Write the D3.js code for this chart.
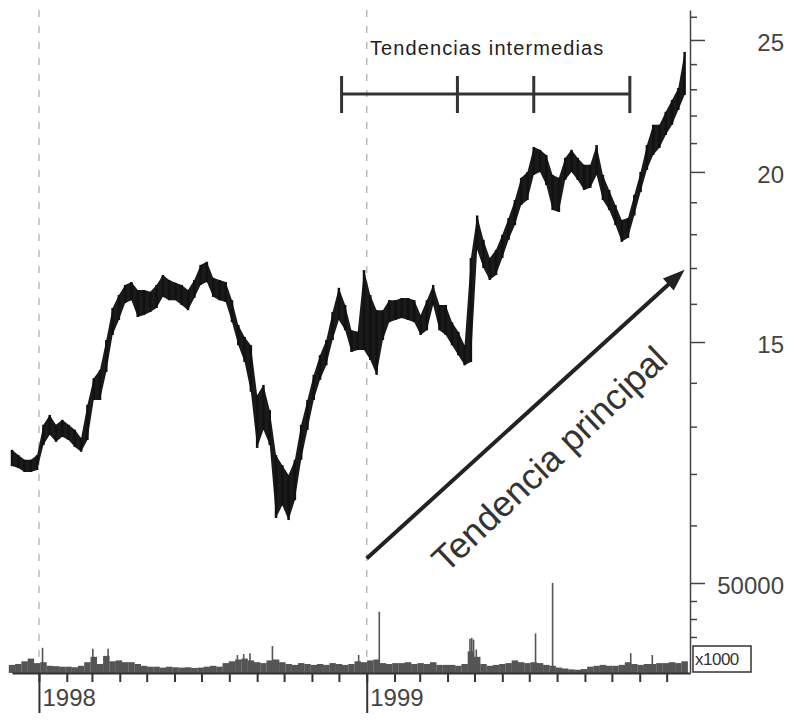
<!DOCTYPE html>
<html>
<head>
<meta charset="utf-8">
<script src="https://cdn.jsdelivr.net/npm/d3@7"></script>
<style>
body { margin: 0; background: #fff; }
svg { display: block; font-family: "Liberation Sans", Arial, sans-serif; }
</style>
</head>
<body>
<script>
var w = 791;
var h = 720;

// weekly price bars, first week starts here
var firstWeek = "1997-12-02";

var weekHigh = [12.50,12.39,12.29,12.29,12.39,13.04,13.26,13.04,13.15,13.04,
  12.93,12.75,13.49,14.11,14.31,15.05,15.89,16.24,16.52,16.60,
  16.38,16.38,16.33,16.52,16.80,16.66,16.58,16.52,16.38,16.66,
  17.09,17.18,16.72,16.66,16.60,16.10,15.44,15.13,14.92,13.71,
  13.95,13.37,12.39,12.18,11.98,12.29,13.04,13.60,14.19,14.67,
  15.05,15.78,16.44,15.97,15.30,15.26,16.94,16.24,15.83,15.83,
  16.10,16.10,16.16,16.16,16.10,15.70,16.10,16.52,15.97,15.97,
  15.51,15.26,14.92,17.29,18.58,17.83,17.29,17.53,17.98,18.50,
  19.07,19.80,20.00,20.86,20.76,20.58,19.90,19.80,20.48,20.76,
  20.48,20.24,20.24,20.93,19.90,19.40,18.91,18.44,18.50,19.24,
  20.00,20.93,21.66,21.66,22.14,22.59,23.05,24.50];

var weekLow = [12.16,12.12,12.04,12.04,12.08,12.60,12.82,12.67,12.78,12.71,
  12.56,12.46,12.71,13.60,13.60,14.26,15.18,15.57,16.02,16.10,
  15.65,15.70,15.78,15.89,16.19,16.10,16.10,15.97,15.83,16.16,
  16.52,16.60,16.19,16.10,16.05,15.51,14.92,14.50,13.79,12.54,
  12.93,12.60,11.14,11.38,11.10,11.48,12.29,12.93,13.60,14.07,
  14.42,15.05,15.57,15.30,14.75,14.80,14.80,14.55,14.19,15.05,
  15.51,15.57,15.62,15.57,15.51,15.18,15.30,15.97,15.30,15.18,
  14.92,14.67,14.42,14.50,17.53,17.00,16.66,16.80,17.29,17.83,
  18.28,18.91,19.07,19.90,20.00,19.56,18.75,18.69,19.73,20.00,
  19.73,19.40,19.47,19.90,19.07,18.75,18.28,17.77,17.89,18.58,
  19.33,20.07,20.58,20.83,21.29,21.66,22.21,22.78];

// volume (x1000)
var weekVol = [4500,5000,6500,8000,5500,6000,4000,3800,3500,3500,
  3200,4000,6000,9000,5000,9500,6500,7000,6000,6000,
  5000,4000,3500,3500,3000,3500,3200,3000,3200,2800,
  3000,3500,4000,3500,5500,6500,7500,8000,7000,6000,
  5500,7000,7500,6000,5000,4500,5500,5000,4500,5000,
  4500,5500,5000,4500,5000,6500,6000,7000,7500,5500,
  5000,5500,5500,6000,5000,5500,5000,6000,4500,4500,
  4500,4000,5000,12000,9000,5000,4000,4500,5000,5500,
  7000,6000,5500,6000,5500,4500,4000,3000,2500,2000,
  1800,2200,3500,4000,4500,4000,4000,4500,6000,5000,
  4500,5000,5000,5500,5500,6000,5500,6500];

var spikeDates = ["1998-01-05","1998-03-02","1998-03-19","1998-08-10","1998-08-17","1998-08-24",
  "1998-09-18","1998-12-23","1999-01-15","1999-04-26","1999-04-28","1999-04-30","1999-05-03",
  "1999-07-08","1999-07-27","1999-10-22","1999-11-15"];
var spikeVol = [14000,13500,13500,10000,10500,11000,15000,10000,34000,19000,19500,18500,13000,
  22000,50000,11000,10000];

var priceTicks = [15, 20, 25];
var priceMinor = [11,12,13,14,16,17,18,19,21,22,23,24,26];
var volTicks = [50000];
var volMinor = [20000, 30000, 40000];

var trendMarks = ["1998-12-04","1999-04-12","1999-07-06","1999-10-21"];
var trendDates = ["1999-01-01","1999-12-21"];
var trendPrices = [10.4, 16.95];

var parse = d3.timeParse("%Y-%m-%d");
var start = parse(firstWeek);
var weeks = weekHigh.map(function(v, i){
  return {date: d3.timeDay.offset(start, i*7), high: v, low: weekLow[i], vol: weekVol[i]};
});

var x = d3.scaleTime()
  .domain([new Date(1997, 11, 2), new Date(1999, 11, 27)])
  .range([12, 690]);
var y = d3.scaleLog().domain([8.57, 26.3]).range([673, 10]);
var yv = d3.scaleLinear().domain([0, 50000]).range([673, 583]);

var svg = d3.select("body").append("svg")
  .attr("width", w)
  .attr("height", h);

svg.append("rect").attr("width", w).attr("height", h).attr("fill", "#fff");

// dashed year lines
svg.selectAll(".grid")
  .data(x.ticks(d3.timeYear.every(1)))
  .enter()
  .append("line")
  .attr("x1", function(d){ return x(d); })
  .attr("x2", function(d){ return x(d); })
  .attr("y1", 10)
  .attr("y2", 673)
  .attr("stroke", "#bbb")
  .attr("stroke-width", 1.5)
  .attr("stroke-dasharray", "7,9");

// volume
svg.selectAll(".vol")
  .data(weeks)
  .enter()
  .append("rect")
  .attr("x", function(d){ return x(d.date) - 3.2; })
  .attr("width", function(d){ return x(d3.timeDay.offset(d.date, 7)) - x(d.date) + 0.2; })
  .attr("y", function(d){ return yv(d.vol); })
  .attr("height", function(d){ return yv(0) - yv(d.vol); })
  .attr("fill", "#555");

svg.selectAll(".spike")
  .data(spikeDates)
  .enter()
  .append("line")
  .attr("x1", function(d){ return x(parse(d)); })
  .attr("x2", function(d){ return x(parse(d)); })
  .attr("y1", yv(0))
  .attr("y2", function(d, i){ return yv(spikeVol[i]); })
  .attr("stroke", "#555")
  .attr("stroke-width", 1.6);

// price band
var band = d3.area()
  .x(function(d){ return x(d.date); })
  .y0(function(d){ return y(d.low); })
  .y1(function(d){ return y(d.high); });

svg.append("path")
  .datum(weeks)
  .attr("d", band)
  .attr("fill", "#1a1a1a");

svg.selectAll(".bar")
  .data(weeks)
  .enter()
  .append("line")
  .attr("x1", function(d){ return x(d.date); })
  .attr("x2", function(d){ return x(d.date); })
  .attr("y1", function(d){ return y(d.high); })
  .attr("y2", function(d){ return y(d.low); })
  .attr("stroke", "#111")
  .attr("stroke-width", 2.5);

// right axis
var axisColor = "#444";
var gMinor = svg.append("g").attr("transform", "translate(690,0)")
  .call(d3.axisRight(y).tickValues(priceMinor).tickSize(7).tickSizeOuter(0).tickFormat(""));
gMinor.select(".domain").attr("stroke", axisColor).attr("stroke-width", 1.5);
gMinor.selectAll(".tick line").attr("stroke", axisColor).attr("stroke-width", 1.5);

var gMajor = svg.append("g").attr("transform", "translate(690,0)")
  .call(d3.axisRight(y).tickValues(priceTicks).tickSize(15).tickFormat(d3.format("d")));
gMajor.select(".domain").remove();
gMajor.selectAll(".tick line").attr("stroke", axisColor).attr("stroke-width", 1.5);
gMajor.selectAll(".tick text")
  .attr("x", 94).attr("dy", "0.45em")
  .attr("text-anchor", "end")
  .attr("font-size", "24px").attr("font-family", "Liberation Sans, Arial, sans-serif")
  .attr("fill", "#444");

var gVolMinor = svg.append("g").attr("transform", "translate(690,0)")
  .call(d3.axisRight(yv).tickValues(volMinor).tickSize(7).tickFormat(""));
gVolMinor.select(".domain").remove();
gVolMinor.selectAll(".tick line").attr("stroke", axisColor).attr("stroke-width", 1.5);

var gVol = svg.append("g").attr("transform", "translate(690,0)")
  .call(d3.axisRight(yv).tickValues(volTicks).tickSize(15).tickFormat(d3.format("d")));
gVol.select(".domain").remove();
gVol.selectAll(".tick line").attr("stroke", axisColor).attr("stroke-width", 1.5);
gVol.selectAll(".tick text")
  .attr("x", 94).attr("dy", "0.45em")
  .attr("text-anchor", "end")
  .attr("font-size", "24px").attr("font-family", "Liberation Sans, Arial, sans-serif")
  .attr("fill", "#444");

// x1000 box
svg.append("rect")
  .attr("x", 693).attr("y", 646).attr("width", 58).attr("height", 26)
  .attr("fill", "#fff").attr("stroke", "#333").attr("stroke-width", 1.5);
svg.append("text")
  .attr("x", 695).attr("y", 665)
  .attr("font-size", "17px").attr("letter-spacing", "-0.5px").attr("fill", "#333")
  .text("x1000");

// bottom axis
var gMonth = svg.append("g").attr("transform", "translate(0,673)")
  .call(d3.axisBottom(x).ticks(d3.timeMonth.every(1)).tickSize(9).tickSizeOuter(0).tickFormat(""));
gMonth.select(".domain").attr("stroke", "#333").attr("stroke-width", 2);
gMonth.selectAll(".tick line").attr("stroke", "#333").attr("stroke-width", 2);

var gYear = svg.append("g").attr("transform", "translate(0,673)")
  .call(d3.axisBottom(x).ticks(d3.timeYear.every(1)).tickSize(40).tickFormat(d3.timeFormat("%Y")));
gYear.select(".domain").remove();
gYear.selectAll(".tick line").attr("stroke", "#333").attr("stroke-width", 2);
gYear.selectAll(".tick text")
  .attr("x", 3).attr("y", 16)
  .attr("text-anchor", "start")
  .attr("font-size", "24px").attr("font-family", "Liberation Sans, Arial, sans-serif")
  .attr("fill", "#444");

// intermediate trends
var marks = trendMarks.map(parse);
svg.append("line")
  .attr("x1", x(marks[0])).attr("x2", x(marks[marks.length - 1]))
  .attr("y1", 94).attr("y2", 94)
  .attr("stroke", "#333").attr("stroke-width", 3);
svg.selectAll(".mark")
  .data(marks)
  .enter()
  .append("line")
  .attr("x1", function(d){ return x(d); })
  .attr("x2", function(d){ return x(d); })
  .attr("y1", 76).attr("y2", 113)
  .attr("stroke", "#333").attr("stroke-width", 3);
svg.append("text")
  .attr("x", 370).attr("y", 55)
  .attr("font-size", "20px").attr("letter-spacing", "1.1px")
  .attr("fill", "#222")
  .text("Tendencias intermedias");

// main trend arrow
var x0 = x(parse(trendDates[0])), y0 = y(trendPrices[0]);
var x1 = x(parse(trendDates[1])), y1 = y(trendPrices[1]);
var ang = Math.atan2(y1 - y0, x1 - x0);
var headLen = 22, headW = 8;
var bx = x1 - headLen * Math.cos(ang), by = y1 - headLen * Math.sin(ang);
svg.append("line")
  .attr("x1", x0).attr("y1", y0)
  .attr("x2", bx + 2 * Math.cos(ang)).attr("y2", by + 2 * Math.sin(ang))
  .attr("stroke", "#222").attr("stroke-width", 4);
svg.append("path")
  .attr("d", "M" + x1 + "," + y1 +
    "L" + (bx - headW * Math.sin(ang)) + "," + (by + headW * Math.cos(ang)) +
    "L" + (bx + headW * Math.sin(ang)) + "," + (by - headW * Math.cos(ang)) + "Z")
  .attr("fill", "#222");

svg.append("text")
  .attr("transform", "translate(558,468) rotate(-43.5)")
  .attr("text-anchor", "middle")
  .attr("font-size", "36px")
  .attr("fill", "#333")
  .text("Tendencia principal");
</script>
</body>
</html>
